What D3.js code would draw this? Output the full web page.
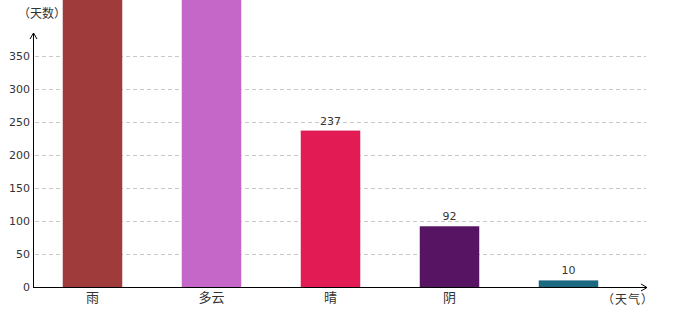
<!DOCTYPE html>
<html>
<head>
<meta charset="utf-8">
<script src="https://cdn.jsdelivr.net/npm/d3@7"></script>
<style>
  body { margin: 0; background: #fff; }
  svg { display: block; font-family: "DejaVu Sans", "Noto Sans CJK SC", sans-serif; }
</style>
</head>
<body>
<div id="drawing_region"></div>
<script>
// 天气统计
var categories = ["雨", "多云", "晴", "阴", ""];
var values = [520, 480, 237, 92, 10];
var colors = ["#9f3b3b", "#c566c9", "#e31b55", "#561462", "#1b6a82"];
var yTicks = [0, 50, 100, 150, 200, 250, 300, 350];

var width = 680, height = 320;
var axisX0 = 33, axisX1 = 647, axisY0 = 287, axisYTop = 33;

var svg = d3.select("#drawing_region")
    .append("svg")
    .attr("width", width)
    .attr("height", height);

var xScale = d3.scaleBand()
    .domain(d3.range(categories.length))
    .range([axisX0, axisX0 + 119 * 5])
    .paddingInner(0.5)
    .paddingOuter(0.25);

var yScale = d3.scaleLinear()
    .domain([0, 350])
    .range([axisY0, 56]);

// グリッド
svg.append("g")
    .selectAll("line")
    .data(yTicks.filter(function(d) { return d > 0; }))
    .enter()
    .append("line")
    .attr("x1", axisX0 + 2)
    .attr("x2", axisX1 - 1)
    .attr("y1", function(d) { return Math.round(yScale(d)) + 0.5; })
    .attr("y2", function(d) { return Math.round(yScale(d)) + 0.5; })
    .attr("stroke", "#c8c8c8")
    .attr("stroke-dasharray", "4,3");

// bars
var bars = svg.append("g");
bars.selectAll("rect")
    .data(values)
    .enter()
    .append("rect")
    .attr("x", function(d, i) { return xScale(i); })
    .attr("width", xScale.bandwidth())
    .attr("y", function(d) { return yScale(d); })
    .attr("height", function(d) { return axisY0 - yScale(d); })
    .attr("fill", function(d, i) { return colors[i]; });

// 値ラベル (画面外のものは描かない)
var labelData = values.map(function(d, i) { return { v: d, i: i }; })
    .filter(function(d) { return yScale(d.v) - 6 > 12; });
bars.selectAll("text")
    .data(labelData)
    .enter()
    .append("text")
    .attr("x", function(d) { return xScale(d.i) + xScale.bandwidth() / 2; })
    .attr("y", function(d) { return yScale(d.v) - 6; })
    .attr("text-anchor", "middle")
    .attr("font-size", 11)
    .attr("fill", "#333")
    .text(function(d) { return d.v; });

// y tick labels
svg.append("g")
    .selectAll("text")
    .data(yTicks)
    .enter()
    .append("text")
    .attr("x", 30)
    .attr("y", function(d) { return yScale(d) + 4; })
    .attr("text-anchor", "end")
    .attr("font-size", 11)
    .attr("fill", "#333")
    .text(function(d) { return d; });

// x category labels
svg.append("g")
    .selectAll("text")
    .data(categories)
    .enter()
    .append("text")
    .attr("x", function(d, i) { return xScale(i) + xScale.bandwidth() / 2; })
    .attr("y", 302)
    .attr("text-anchor", "middle")
    .attr("font-size", 13)
    .attr("font-family", "Noto Sans CJK SC")
    .attr("fill", "#333")
    .text(function(d) { return d; });

// axes with arrows
var axes = svg.append("g").attr("stroke", "#000").attr("fill", "none");
axes.append("line")
    .attr("x1", axisX0 + 0.5).attr("x2", axisX0 + 0.5)
    .attr("y1", axisY0).attr("y2", axisYTop);
axes.append("path")
    .attr("d", "M" + (axisX0 - 3) + "," + (axisYTop + 6) + "L" + (axisX0 + 0.5) + "," + axisYTop + "L" + (axisX0 + 4) + "," + (axisYTop + 6));
axes.append("line")
    .attr("x1", axisX0).attr("x2", axisX1)
    .attr("y1", axisY0 + 0.5).attr("y2", axisY0 + 0.5);
axes.append("path")
    .attr("d", "M" + (axisX1 - 6) + "," + (axisY0 - 3) + "L" + axisX1 + "," + (axisY0 + 0.5) + "L" + (axisX1 - 6) + "," + (axisY0 + 4));

// axis titles
svg.append("text")
    .attr("x", 18)
    .attr("y", 18)
    .attr("font-size", 12)
    .attr("font-family", "Noto Sans CJK SC")
    .attr("fill", "#333")
    .text("（天数）");

svg.append("text")
    .attr("x", 602)
    .attr("y", 304)
    .attr("font-size", 12)
    .attr("letter-spacing", 1)
    .attr("font-family", "Noto Sans CJK SC")
    .attr("fill", "#333")
    .text("（天气）");
</script>
</body>
</html>
